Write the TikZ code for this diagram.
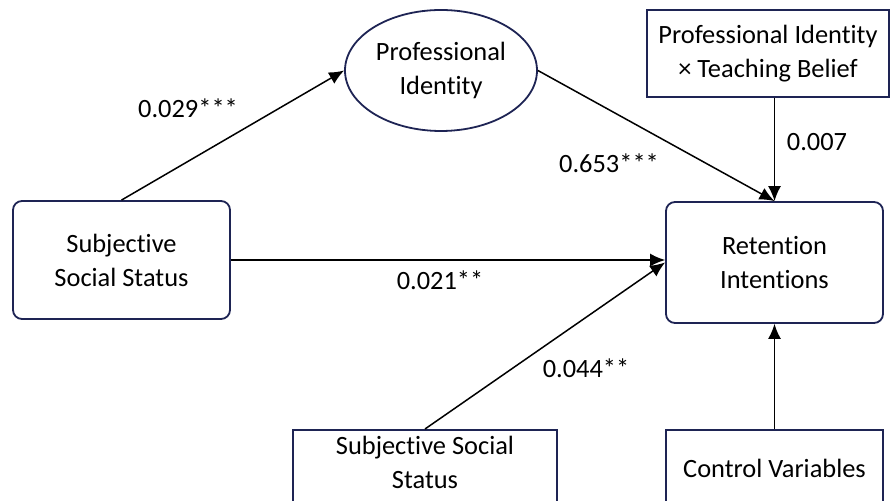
\documentclass[tikz,border=0pt]{standalone}
\usepackage{fontspec}
\setmainfont{Carlito}[Ligatures={NoCommon}]
\usetikzlibrary{arrows.meta,shapes.geometric}
\definecolor{navy}{RGB}{30,36,84}
\tikzset{
  varbox/.style={draw=navy,line width=0.9pt,rounded corners=4.5pt,align=center,inner sep=2pt},
  sqbox/.style={draw=navy,line width=0.9pt,align=center,inner sep=1pt},
  latent/.style={draw=navy,line width=0.9pt,ellipse,align=center,inner sep=0pt},
  path/.style={->,line width=0.75pt},
  coef/.style={inner sep=1pt}
}
\begin{document}
\begin{tikzpicture}[x=0.5pt,y=-0.5pt,>={Latex[length=7.5pt,width=6.5pt]},font=\fontsize{13.2}{17}\selectfont]
	\useasboundingbox (0,0) rectangle (890,501);
	\clip (0,0) rectangle (890,501);
	% variables
	\node[varbox,minimum width=108.5pt,minimum height=59pt] (ssl) at (121.5,260) {Subjective\\Social Status};
	\node[latent,minimum width=96pt,minimum height=60.5pt] (pid) at (441,70.5) {Professional\\Identity};
	\node[varbox,minimum width=108.5pt,minimum height=60.5pt] (ri) at (774.5,262.5) {Retention\\Intentions};
	\node[sqbox,minimum width=121pt,minimum height=43.5pt] (mod) at (768,53.5) {Professional Identity\\× Teaching Belief};
	\node[sqbox,minimum width=132pt,minimum height=50pt,anchor=north] (ssbbox) at (425,429) {};
	\node[align=center] (ssb) at (425,462.5) {Subjective Social\\Status};
	\node[sqbox,minimum width=108.5pt,minimum height=50pt,anchor=north] (cvbox) at (774.5,429) {};
	\node (cv) at (774.5,468) {Control Variables};
	% paths
	\draw[path] (ssl.north) -- (pid.west);
	\draw[path] (pid.east) -- (ri.north);
	\draw[path] (mod.south -| ri.north) -- (ri.north);
	\draw[path] (ssl.east) -- (ssl.east -| ri.west);
	\draw[path] (ssbbox.north) -- (ri.west);
	\draw[path] (cvbox.north) -- (ri.south);
	% coefficients
	\node[coef] (c1) at (188,108) {0.029***};
	\node[coef] (c2) at (609,163) {0.653***};
	\node[coef] (c3) at (817,142) {0.007};
	\node[coef] (c4) at (440,280) {0.021**};
	\node[coef] (c5) at (586,368) {0.044**};
\end{tikzpicture}
\end{document}
